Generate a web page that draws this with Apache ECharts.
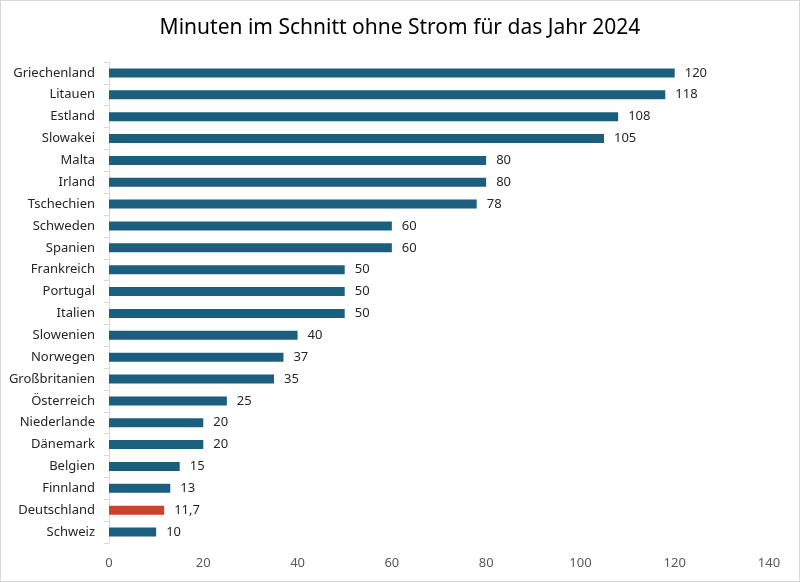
<!DOCTYPE html>
<html>
<head>
<meta charset="utf-8">
<script src="https://cdn.jsdelivr.net/npm/echarts@6/dist/echarts.min.js"></script>
<style>
  html, body { margin: 0; padding: 0; background: #fff; }
  #main { width: 798px; height: 580px; border: 1px solid #d9d9d9; }
</style>
</head>
<body>
<div id="main"></div>
<script>
// Daten, von oben nach unten wie im Bild
const countries = ['Griechenland', 'Litauen', 'Estland', 'Slowakei', 'Malta', 'Irland', 'Tschechien',
  'Schweden', 'Spanien', 'Frankreich', 'Portugal', 'Italien', 'Slowenien', 'Norwegen',
  'Großbritanien', 'Österreich', 'Niederlande', 'Dänemark', 'Belgien', 'Finnland', 'Deutschland', 'Schweiz'];
const minutes = [120, 118, 108, 105, 80, 80, 78, 60, 60, 50, 50, 50, 40, 37, 35, 25, 20, 20, 15, 13, 11.7, 10];
const highlight = 'Deutschland';

const chart = echarts.init(document.getElementById('main'));

chart.setOption({
  animation: false,
  title: {
    text: 'Minuten im Schnitt ohne Strom für das Jahr 2024',
    left: 'center',
    top: 12,
    textStyle: { fontFamily: 'Noto Sans', fontSize: 21, fontWeight: 'normal', color: '#000' }
  },
  grid: { left: 108, right: 30, top: 61, bottom: 38 },
  xAxis: {
    type: 'value',
    min: 0,
    max: 140,
    interval: 20,
    axisLine: { show: false },
    axisTick: { show: false },
    splitLine: { show: false },
    axisLabel: { color: '#595959', fontFamily: 'Noto Sans', fontSize: 13, margin: 14 }
  },
  yAxis: {
    type: 'category',
    inverse: true,
    data: countries,
    axisLine: { lineStyle: { color: '#d9d9d9' } },
    axisTick: { show: true, lineStyle: { color: '#d9d9d9' } },
    axisLabel: { color: '#262626', fontFamily: 'Noto Sans', fontSize: 13, margin: 14 }
  },
  series: [{
    type: 'bar',
    barWidth: 9,
    data: minutes.map((v, i) => ({
      value: v,
      itemStyle: { color: countries[i] === highlight ? '#d0412b' : '#1b5e7e' }
    })),
    label: {
      show: true,
      position: 'right',
      distance: 10,
      color: '#262626',
      fontFamily: 'Noto Sans',
      fontSize: 13,
      formatter: p => String(p.value).replace('.', ',')
    }
  }]
});
</script>
</body>
</html>
